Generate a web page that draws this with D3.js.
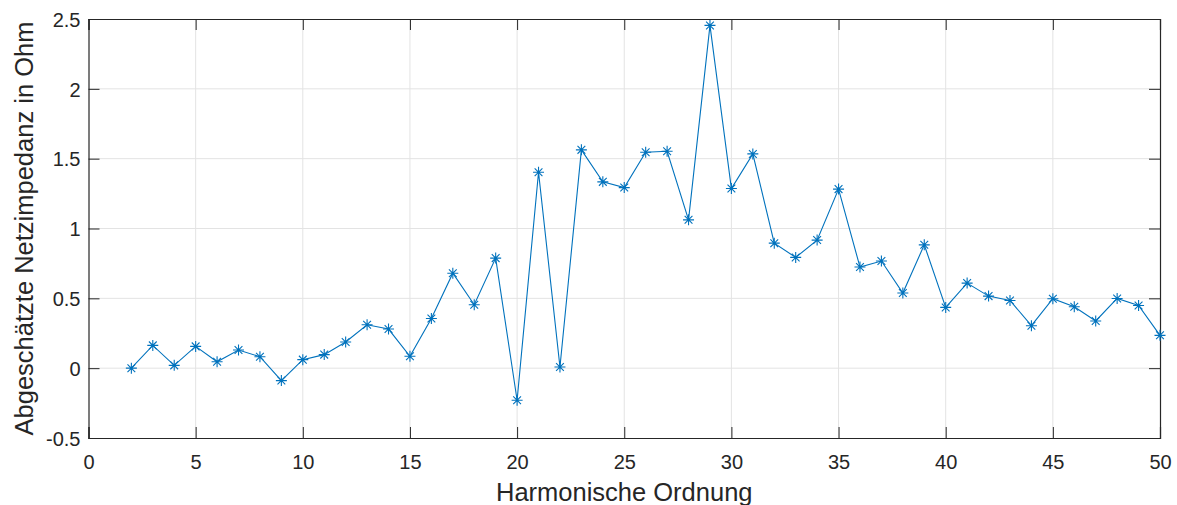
<!DOCTYPE html>
<html>
<head>
<meta charset="utf-8">
<script src="https://cdn.jsdelivr.net/npm/d3@7"></script>
<style>
  body { margin: 0; background: #fff; }
  svg { display: block; font-family: "Liberation Sans", Arial, sans-serif; }
</style>
</head>
<body>
<div id="chart"></div>
<script>
// harmonic order and estimated impedance (Ohm)
const orders = d3.range(2, 51);
const impedance = [
  0.00, 0.163, 0.02, 0.156, 0.046, 0.13, 0.082, -0.089, 0.061, 0.097,
  0.187, 0.311, 0.28, 0.085, 0.356, 0.68, 0.454, 0.788, -0.23, 1.403,
  0.008, 1.563, 1.334, 1.293, 1.546, 1.553, 1.062, 2.454, 1.286, 1.534,
  0.895, 0.793, 0.917, 1.282, 0.724, 0.767, 0.538, 0.883, 0.435, 0.609,
  0.516, 0.485, 0.304, 0.497, 0.44, 0.338, 0.499, 0.449, 0.235
];
const xTicks = [0, 5, 10, 15, 20, 25, 30, 35, 40, 45, 50];
const yTicks = [-0.5, 0, 0.5, 1, 1.5, 2, 2.5];

const width = 1177;
const height = 505;
const margin = { top: 19, right: 17, bottom: 67, left: 88.5 };
const color = "#0072BD";
const axisColor = "#262626";

const svg = d3.select("#chart").append("svg")
  .attr("width", width)
  .attr("height", height);

const x = d3.scaleLinear().domain([0, 50]).range([margin.left, width - margin.right]);
const y = d3.scaleLinear().domain([-0.5, 2.5]).range([height - margin.bottom, margin.top]);

const x0 = x.range()[0], x1 = x.range()[1];
const y0 = y.range()[0], y1 = y.range()[1];

// grid
svg.append("g").selectAll("line")
  .data(xTicks.slice(1, -1))
  .join("line")
  .attr("x1", d => x(d)).attr("x2", d => x(d))
  .attr("y1", y0).attr("y2", y1)
  .attr("stroke", "#e3e3e3").attr("stroke-width", 1);

svg.append("g").selectAll("line")
  .data(yTicks.slice(1, -1))
  .join("line")
  .attr("x1", x0).attr("x2", x1)
  .attr("y1", d => y(d)).attr("y2", d => y(d))
  .attr("stroke", "#e3e3e3").attr("stroke-width", 1);

// axes (ticks pointing inward, on all four sides)
const tickLen = 11;
const fmt = d => String(d);

const axBottom = svg.append("g").attr("transform", `translate(0,${y0})`)
  .call(d3.axisBottom(x).tickValues(xTicks).tickSize(-tickLen).tickPadding(17).tickFormat(fmt));
const axTop = svg.append("g").attr("transform", `translate(0,${y1})`)
  .call(d3.axisTop(x).tickValues(xTicks).tickSize(-tickLen).tickFormat(""));
const axLeft = svg.append("g").attr("transform", `translate(${x0},0)`)
  .call(d3.axisLeft(y).tickValues(yTicks).tickSize(-tickLen).tickPadding(8).tickFormat(fmt));
const axRight = svg.append("g").attr("transform", `translate(${x1},0)`)
  .call(d3.axisRight(y).tickValues(yTicks).tickSize(-tickLen).tickFormat(""));

[axBottom, axTop, axLeft, axRight].forEach(g => {
  g.select(".domain").attr("stroke", axisColor).attr("stroke-width", 1.2);
  g.selectAll(".tick line").attr("stroke", axisColor).attr("stroke-width", 1);
  g.selectAll(".tick text").attr("fill", axisColor).style("font-size", "20px");
});
axBottom.selectAll(".tick text").attr("dy", "0.71em");
axLeft.selectAll(".tick text").attr("dy", "0.36em");

// line
const line = d3.line()
  .x((d, i) => x(orders[i]))
  .y(d => y(d));

svg.append("path")
  .datum(impedance)
  .attr("d", line)
  .attr("fill", "none")
  .attr("stroke", color)
  .attr("stroke-width", 1.1);

// asterisk markers
const r = 5.5;
const d45 = r * Math.SQRT1_2;
const star = `M${-r},0L${r},0M0,${-r}L0,${r}M${-d45},${-d45}L${d45},${d45}M${-d45},${d45}L${d45},${-d45}`;

svg.append("g").selectAll("path")
  .data(impedance)
  .join("path")
  .attr("transform", (d, i) => `translate(${x(orders[i])},${y(d)})`)
  .attr("d", star)
  .attr("fill", "none")
  .attr("stroke", color)
  .attr("stroke-width", 1.1);

// labels
svg.append("text")
  .attr("x", (x0 + x1) / 2)
  .attr("y", 500.5)
  .attr("text-anchor", "middle")
  .attr("fill", axisColor)
  .style("font-size", "25.5px")
  .text("Harmonische Ordnung");

svg.append("text")
  .attr("transform", `translate(33,${(y0 + y1) / 2}) rotate(-90)`)
  .attr("text-anchor", "middle")
  .attr("fill", axisColor)
  .style("font-size", "25.5px")
  .text("Abgeschätzte Netzimpedanz in Ohm");
</script>
</body>
</html>
